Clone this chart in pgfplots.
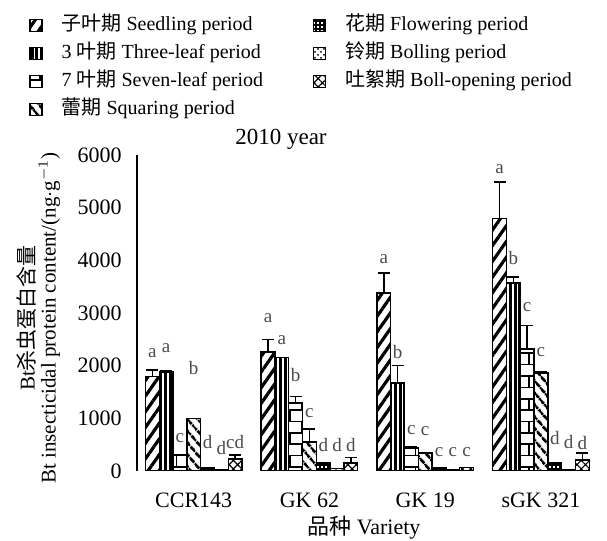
\documentclass[border=0pt]{standalone}
\usepackage{pgfplots}
\pgfplotsset{compat=1.18}
\usepackage{pgfplotstable}
\usetikzlibrary{patterns,patterns.meta}
\usepackage{fontspec}
\setmainfont{Liberation Serif}
\newfontfamily\cjk{Noto Sans CJK SC}

\pgfplotstableread{
x y err ly lab
0 1800 120 2243 a
1 2260 240 2909 a
2 3380 380 4030 a
3 4790 700 5741 a
}\seedling
\pgfplotstableread{
x y err ly lab
0 1880 30 2338 a
1 2150 0 2490 a
2 1670 330 2262 b
3 3570 110 4049 b
}\threeleaf
\pgfplotstableread{
x y err ly lab
0 300 0 627 c
1 1290 130 1825 b
2 440 20 780 c
3 2320 440 3118 c
}\sevenleaf
\pgfplotstableread{
x y err ly lab
0 1000 0 1958 b
1 550 250 1103 c
2 340 0 760 c
3 1860 30 2262 c
}\squaring
\pgfplotstableread{
x y err ly lab
0 70 0 551 d
1 150 0 494 d
2 70 0 361 c
3 150 0 627 d
}\flowering
\pgfplotstableread{
x y err ly lab
0 30 0 437 d
1 50 0 494 d
2 20 0 361 c
3 20 0 551 d
}\bolling
\pgfplotstableread{
x y err ly lab
0 230 70 551 cd
1 150 110 494 d
2 70 0 361 c
3 210 130 532 d
}\bollopen

\pgfplotsset{
  mybar/.style={draw=black, line width=0.7pt, bar shift=#1, forget plot,
    error bars/y dir=plus, error bars/y explicit,
    error bars/error bar style={line width=0.7pt, black},
    error bars/error mark options={rotate=90, mark size=3pt, line width=0.7pt, black}},
}
\colorlet{lab}{black!70}

\begin{document}
\begin{tikzpicture}
\path[use as bounding box] (0,0) rectangle (303.5pt,270.5pt);
\begin{axis}[
  at={(68.5pt,35pt)}, anchor=south west,
  scale only axis, width=231.5pt, height=158pt,
  xmin=-0.49, xmax=3.51, ymin=0, ymax=6000,
  axis y line*=left, axis x line*=bottom,
  x axis line style={draw=none},
  y axis line style={line width=0.6pt},
  xtick={0,1,2,3}, xticklabels={CCR143, GK 62, GK 19, sGK 321},
  ytick={0,1000,...,6000},
  major tick length=0pt,
  scaled y ticks=false,
  /pgf/number format/assume math mode=true,
  /pgf/number format/1000 sep={},
  yticklabel style={anchor=east, xshift=-4.2pt, font=\fontsize{11}{13}\selectfont},
  xticklabel style={anchor=center, yshift=-14.5pt, font=\fontsize{11}{13}\selectfont},
  ybar, bar width=6.9pt,
  title={2010 year},
  title style={at={(axis description cs:0.311,1.013)}, anchor=center, font=\fontsize{11.5}{13}\selectfont},
  xlabel={{\cjk 品种} Variety},
  xlabel style={at={(axis description cs:0.49,-0.180)}, anchor=center, font=\fontsize{11}{13}\selectfont},
  ylabel={Bt{\cjk 杀虫蛋白含量}\\Bt insecticidal protein content/(ng$\cdot$g$^{-1}$)},
  ylabel style={at={(axis description cs:-0.2127,0.484)}, anchor=center, align=center, font=\fontsize{10.5}{8.5}\selectfont},
  point meta=explicit symbolic,
  nodes near coords={\pgfplotspointmeta},
  visualization depends on={\thisrow{ly}-\thisrow{y} \as \dly},
  nodes near coords style={anchor=center, yshift=\dly*0.026333pt, font=\fontsize{9.5}{11}\selectfont, text=lab},
  legend columns=2,
  legend cell align=left,
  legend image code/.code={\draw[#1, line width=0.8pt] (0pt,-3pt) rectangle (6pt,3pt);},
  legend style={at={(axis description cs:-0.2333,1.441)}, anchor=north west, draw=none, fill=none,
    inner sep=0pt, outer sep=0pt, row sep=4pt,
    nodes={inner sep=0pt, text height=7.5pt, text depth=2.5pt},
    font=\fontsize{10}{12}\selectfont,
    /tikz/every odd column/.append style={column sep=9.5pt},
    /tikz/every even column/.append style={column sep=5.5pt}},
]
\addplot[mybar=-20.7pt, fill=white, pattern={Lines[angle=55,distance=4.5pt,line width=1.6pt]}] table[x=x,y=y,meta=lab,y error=err] {\seedling};
\addplot[mybar=-13.8pt, fill=white, pattern={Lines[angle=90,distance=2.3pt,line width=1.5pt]}] table[x=x,y=y,meta=lab,y error=err] {\threeleaf};
\addplot[mybar=-6.9pt, fill=white, pattern=bricks] table[x=x,y=y,meta=lab,y error=err] {\sevenleaf};
\addplot[mybar=0pt, fill=white, pattern={Lines[angle=-50,distance=4pt,line width=1.5pt]}] table[x=x,y=y,meta=lab,y error=err] {\squaring};
\addplot[mybar=6.9pt, fill=white, pattern={Hatch[angle=0,distance=2pt,line width=1pt]}] table[x=x,y=y,meta=lab,y error=err] {\flowering};
\addplot[mybar=13.8pt, fill=white, pattern=crosshatch dots] table[x=x,y=y,meta=lab,y error=err] {\bolling};
\addplot[mybar=20.7pt, fill=white, pattern={Hatch[angle=45,distance=3pt,line width=0.6pt]}] table[x=x,y=y,meta=lab,y error=err] {\bollopen};

\addlegendimage{pattern={Lines[angle=55,distance=4.5pt,line width=1.6pt]}}
\addlegendentry{\makebox[120pt][l]{{\cjk 子叶期} Seedling period}}
\addlegendimage{pattern={Hatch[angle=0,distance=2pt,line width=1pt]}}
\addlegendentry{{\cjk 花期} Flowering period}
\addlegendimage{pattern={Lines[angle=90,distance=2.3pt,line width=1.5pt]}}
\addlegendentry{\makebox[120pt][l]{3 {\cjk 叶期} Three-leaf period}}
\addlegendimage{pattern=crosshatch dots}
\addlegendentry{{\cjk 铃期} Bolling period}
\addlegendimage{pattern=bricks}
\addlegendentry{\makebox[120pt][l]{7 {\cjk 叶期} Seven-leaf period}}
\addlegendimage{pattern={Hatch[angle=45,distance=3pt,line width=0.6pt]}}
\addlegendentry{{\cjk 吐絮期} Boll-opening period}
\addlegendimage{pattern={Lines[angle=-50,distance=4pt,line width=1.5pt]}}
\addlegendentry{\makebox[120pt][l]{{\cjk 蕾期} Squaring period}}
\end{axis}
\end{tikzpicture}
\end{document}
